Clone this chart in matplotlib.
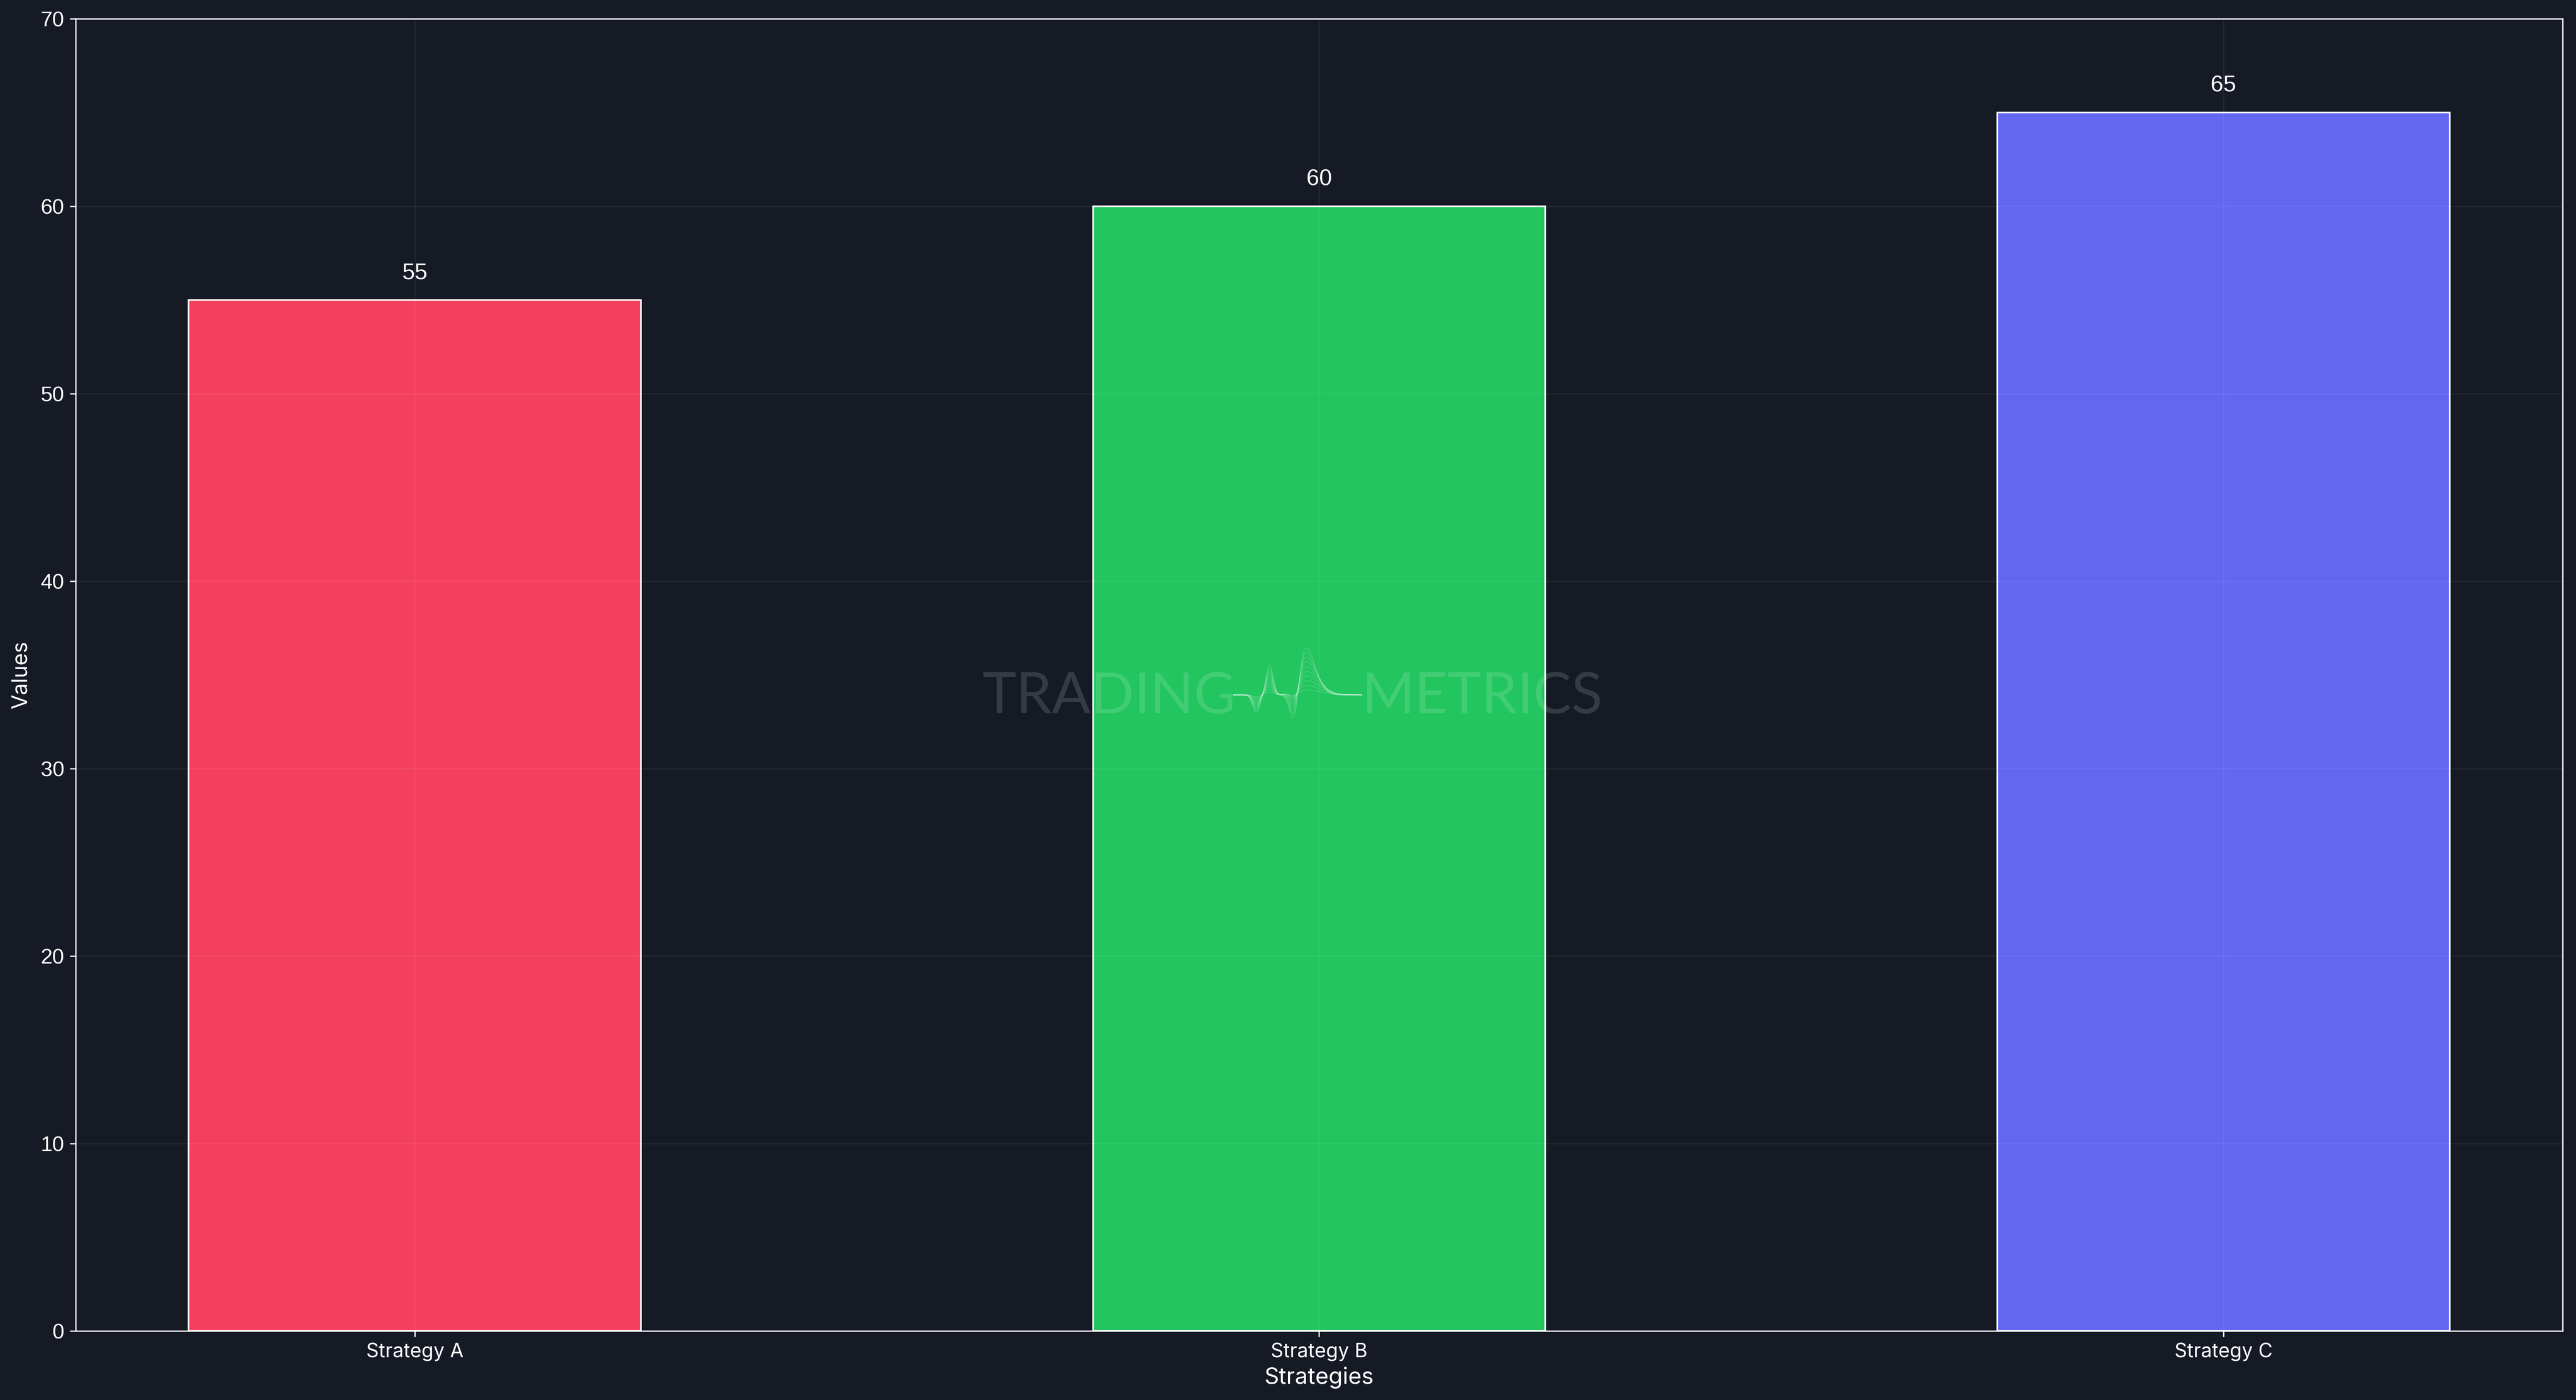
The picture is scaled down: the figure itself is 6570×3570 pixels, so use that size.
import numpy as np
import matplotlib
matplotlib.use("Agg")
import matplotlib.pyplot as plt

# ---- data ----
categories = ["Strategy A", "Strategy B", "Strategy C"]
values = [55, 60, 65]
colors = ["#f43f5e", "#22c55e", "#6366f1"]
y_ticks = [0, 10, 20, 30, 40, 50, 60, 70]

BG = "#161a25"

plt.rcParams["font.family"] = ["Inter", "DejaVu Sans"]

fig = plt.figure(figsize=(21.9, 11.9), dpi=300, facecolor=BG)
ax = fig.add_axes([0.0294, 0.0493, 0.9654, 0.9373])
ax.set_facecolor(BG)

x = np.arange(len(categories))
bars = ax.bar(x, values, width=0.5, color=colors, edgecolor="white",
              linewidth=1.0, zorder=1)

ax.axhline(0, color="white", lw=0.8, ls="--", alpha=0.5, zorder=0.5)

for xi, v in zip(x, values):
    ax.annotate(f"{v}", (xi, v), xytext=(0, 10), textcoords="offset points",
                ha="center", va="bottom", color="white", fontsize=14,
                family="Liberation Sans")

ax.set_ylim(0, 70)
ax.set_yticks(y_ticks)
ax.set_xticks(x)
ax.set_xticklabels(categories)
ax.tick_params(colors="white", labelsize=12, length=3.5, width=0.8)
for lab in ax.get_yticklabels():
    lab.set_family("Liberation Sans")
    lab.set_fontsize(13)
ax.set_xlabel("Strategies", color="white", fontsize=14, labelpad=3.5)
ax.set_ylabel("Values", color="white", fontsize=13, labelpad=6)

for s in ax.spines.values():
    s.set_color("white")
    s.set_linewidth(0.8)

ax.grid(True, color="white", alpha=0.06, lw=0.8)
ax.set_axisbelow("line")

# ---- watermark ----
ov = fig.add_axes([0, 0, 1, 1], facecolor="none")
ov.set_xlim(0, 6570)
ov.set_ylim(3570, 0)
ov.axis("off")
wm_col = (1, 1, 1, 0.14)
ov.text(3152, 1819, "TRADING", ha="right", va="baseline", fontsize=35,
        family="Lato", fontweight="normal", color=wm_col)
ov.text(3473, 1819, "METRICS", ha="left", va="baseline", fontsize=35,
        family="Lato", fontweight="normal", color=wm_col)

xs = np.linspace(3146, 3473, 600)
y0 = 1772
def g(xx, c, w):
    return np.exp(-0.5 * ((xx - c) / w) ** 2)
for s in np.linspace(0.1, 1.0, 10):
    wr = 24 + (1 - s) * 18
    shape = (-45 * g(xs, 3204, 9) + 75 * g(xs, 3238, 9)
             - 81 * g(xs, 3301, 11) + 122 * g(xs, 3330, wr * 0.7) * (xs < 3330)
             + 122 * g(xs, 3330, wr) * (xs >= 3330))
    ov.plot(xs, y0 - s * shape, color=(1, 1, 1, 0.14), lw=0.6)

fig.savefig("out.png", dpi=300, facecolor=BG)
